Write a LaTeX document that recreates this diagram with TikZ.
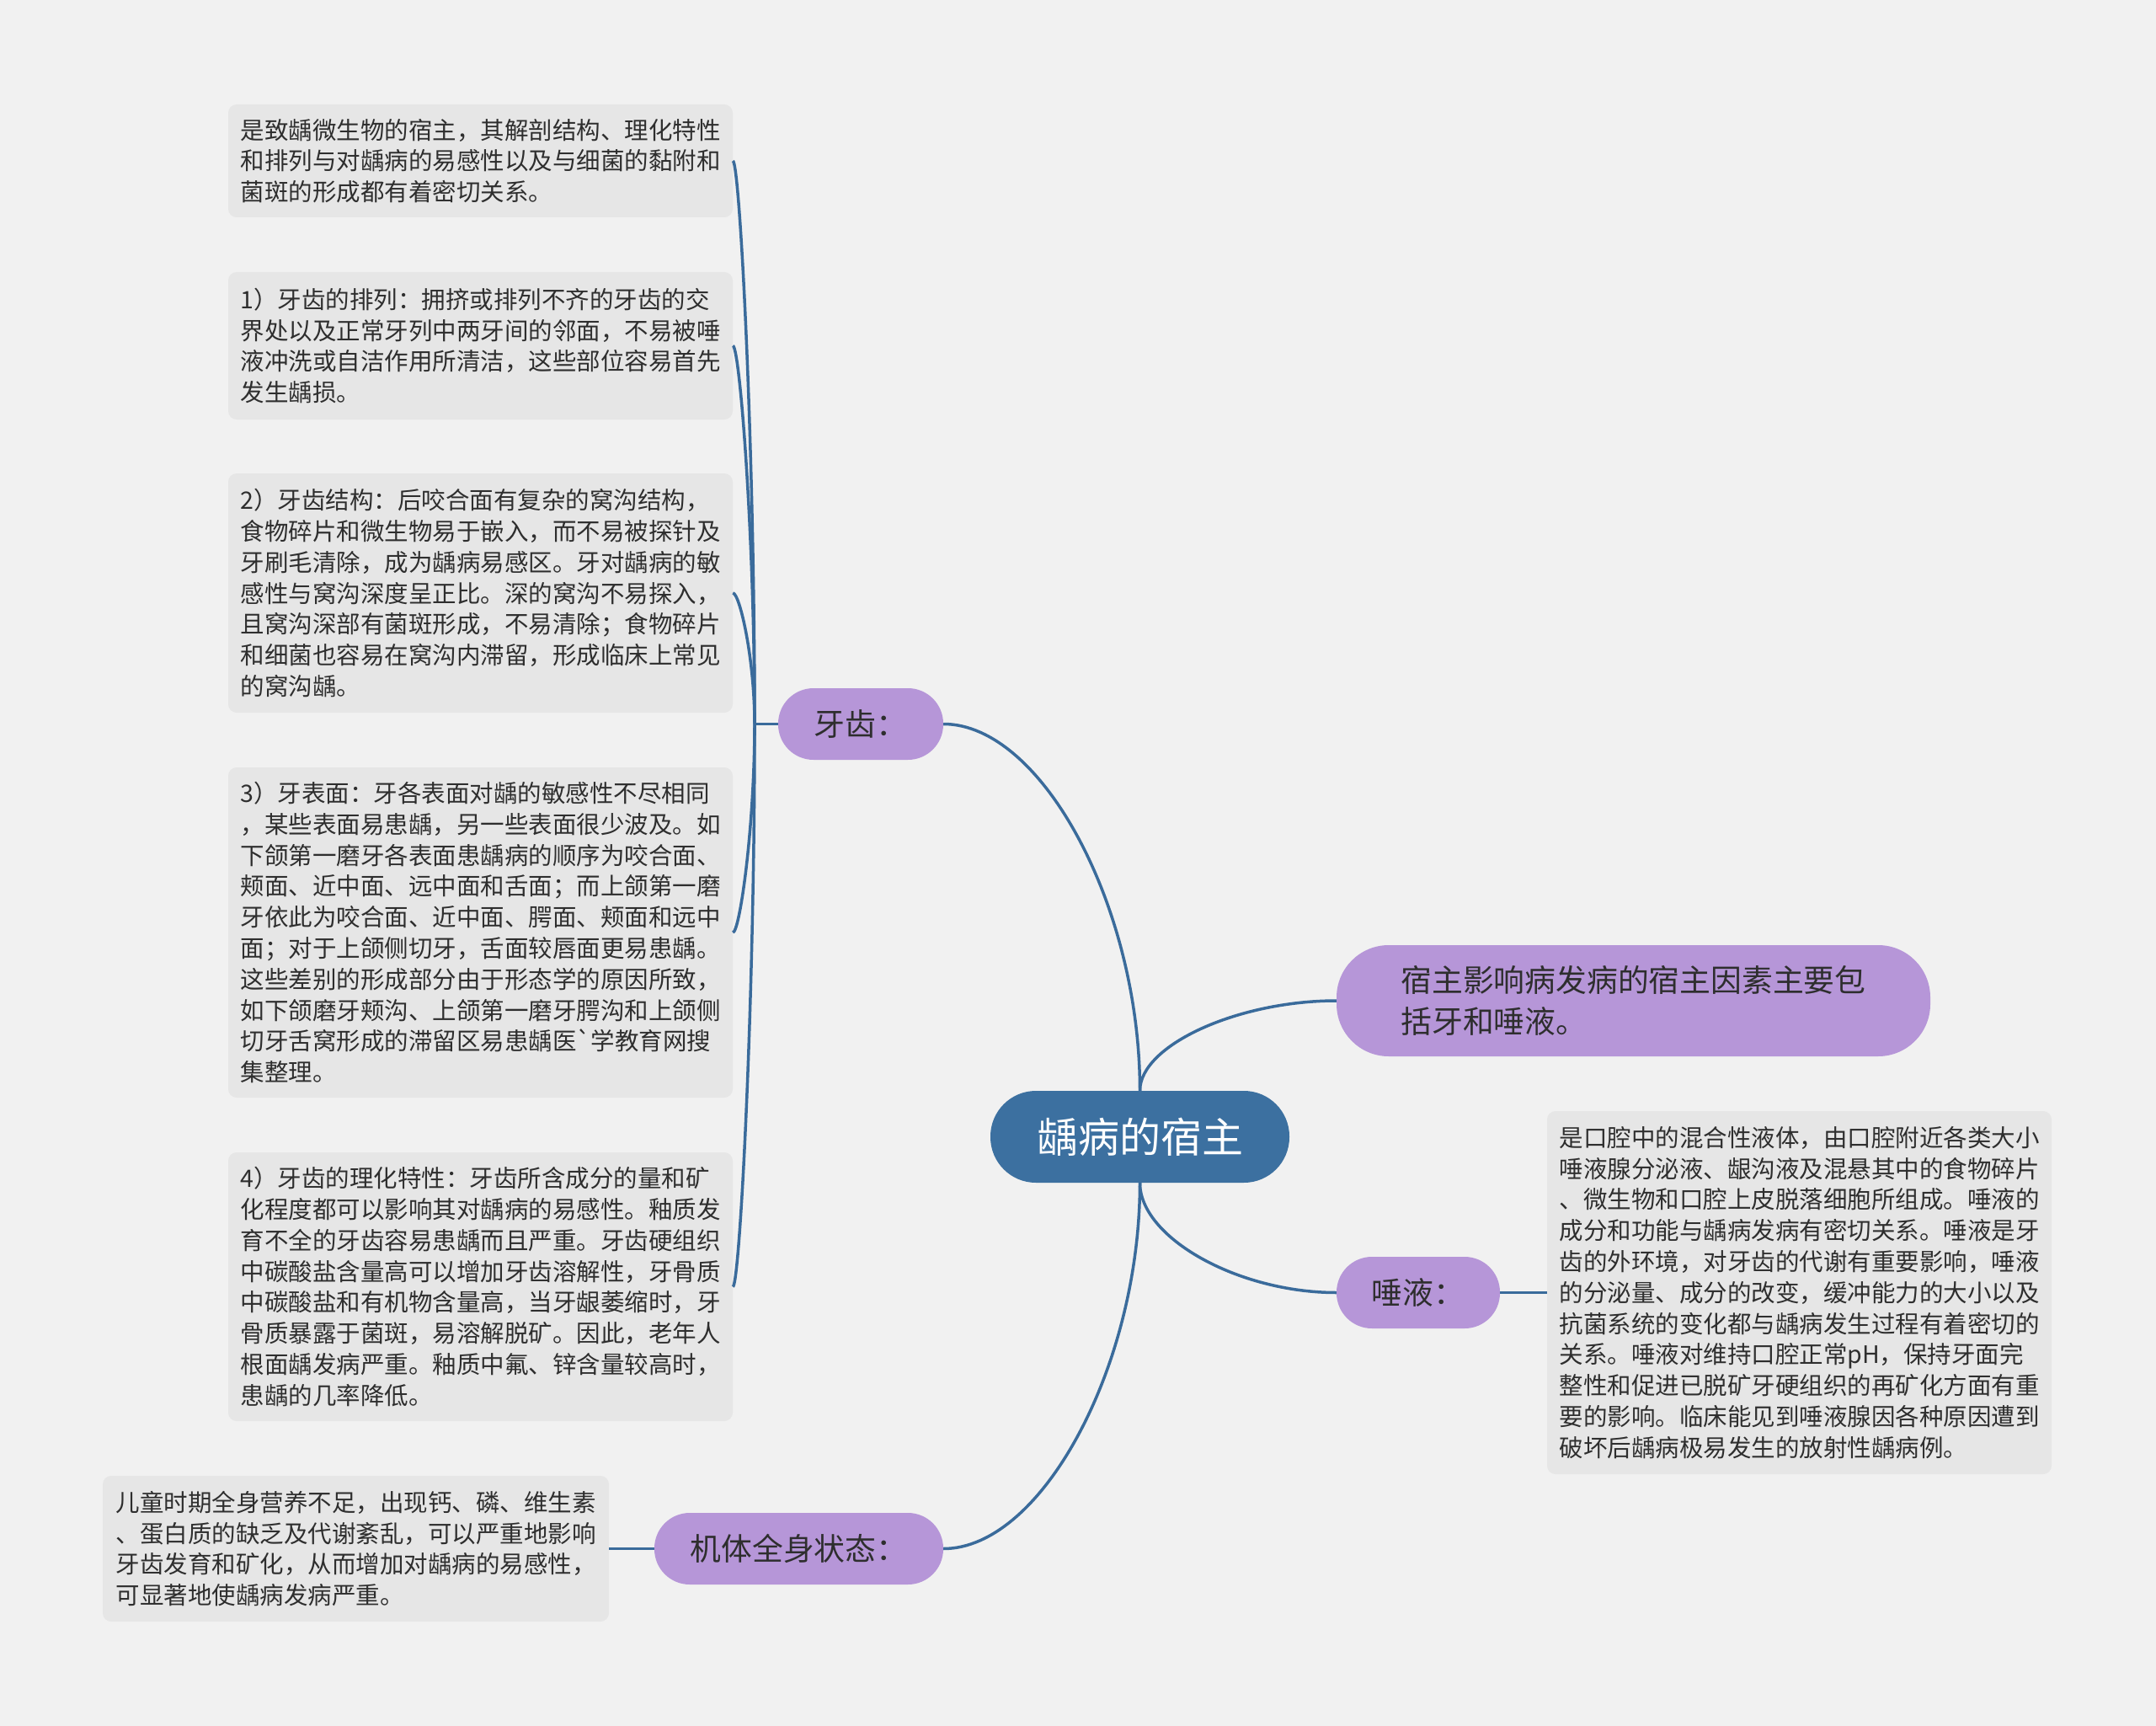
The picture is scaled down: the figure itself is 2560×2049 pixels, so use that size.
\documentclass[tikz,border=0pt]{standalone}
\usepackage{fontspec}
\setmainfont{Noto Sans CJK SC}
\newfontfamily\nomapfont{Noto Sans CJK SC}
\definecolor{bgc}{HTML}{F1F1F1}
\definecolor{boxc}{HTML}{E6E6E6}
\definecolor{purp}{HTML}{B696D8}
\definecolor{rootc}{HTML}{3C70A0}
\definecolor{linec}{HTML}{3A6B9B}
\definecolor{txtc}{HTML}{2E2E2E}
\tikzset{
  textbox/.style={fill=boxc, rounded corners=10pt, inner sep=0pt, align=left,
    font=\fontsize{28.5}{36.8}\selectfont, text=txtc},
  topic/.style={fill=purp, inner sep=0pt, align=left,
    font=\fontsize{36.8}{49}\selectfont, text=txtc},
  rootbox/.style={fill=rootc, inner sep=0pt, rounded corners=54pt,
    font=\fontsize{49}{56}\selectfont, text=white},
  conn/.style={draw=linec, line width=3.5pt}
}
\begin{document}
\begin{tikzpicture}[x=1pt,y=-1pt]
\path[fill=bgc] (0,0) rectangle (2560,2049);
\useasboundingbox (0,0) rectangle (2560,2049);

% root and topics
\node[rootbox, minimum width=355pt, minimum height=109pt] (root) at (1353.5,1349.5) {龋病的宿主};
\node[topic, rounded corners=42pt, minimum width=196pt, minimum height=85pt] (teeth) at (1022,859.5) {牙齿：};
\node[topic, rounded corners=42pt, minimum width=343pt, minimum height=85pt] (bodyn) at (948.5,1838.5) {机体全身状态：};
\node[topic, rounded corners=42pt, minimum width=194pt, minimum height=85pt] (saliva) at (1684,1534.5) {唾液：};
\node[topic, rounded corners=62pt, minimum width=705pt, minimum height=132pt] (summ) at (1939.5,1188) {宿主影响病发病的宿主因素主要包\\括牙和唾液。};

% left text boxes
\node[textbox, minimum width=599pt, minimum height=134pt] (b1) at (570.5,191) {是致龋微生物的宿主，其解剖结构、理化特性\\和排列与对龋病的易感性以及与细菌的黏附和\\菌斑的形成都有着密切关系。};
\node[textbox, minimum width=599pt, minimum height=175pt] (b2) at (570.5,410.5) {1）牙齿的排列：拥挤或排列不齐的牙齿的交\\界处以及正常牙列中两牙间的邻面，不易被唾\\液冲洗或自洁作用所清洁，这些部位容易首先\\发生龋损。};
\node[textbox, minimum width=599pt, minimum height=284pt] (b3) at (570.5,704) {2）牙齿结构：后咬合面有复杂的窝沟结构，\\食物碎片和微生物易于嵌入，而不易被探针及\\牙刷毛清除，成为龋病易感区。牙对龋病的敏\\感性与窝沟深度呈正比。深的窝沟不易探入，\\且窝沟深部有菌斑形成，不易清除；食物碎片\\和细菌也容易在窝沟内滞留，形成临床上常见\\的窝沟龋。};
\node[textbox, minimum width=599pt, minimum height=392pt] (b4) at (570.5,1107) {3）牙表面：牙各表面对龋的敏感性不尽相同\\，某些表面易患龋，另一些表面很少波及。如\\下颌第一磨牙各表面患龋病的顺序为咬合面、\\颊面、近中面、远中面和舌面；而上颌第一磨\\牙依此为咬合面、近中面、腭面、颊面和远中\\面；对于上颌侧切牙，舌面较唇面更易患龋。\\这些差别的形成部分由于形态学的原因所致，\\如下颌磨牙颊沟、上颌第一磨牙腭沟和上颌侧\\切牙舌窝形成的滞留区易患龋医{\nomapfont `}学教育网搜\\集整理。};
\node[textbox, minimum width=599pt, minimum height=319pt] (b5) at (570.5,1527.5) {4）牙齿的理化特性：牙齿所含成分的量和矿\\化程度都可以影响其对龋病的易感性。釉质发\\育不全的牙齿容易患龋而且严重。牙齿硬组织\\中碳酸盐含量高可以增加牙齿溶解性，牙骨质\\中碳酸盐和有机物含量高，当牙龈萎缩时，牙\\骨质暴露于菌斑，易溶解脱矿。因此，老年人\\根面龋发病严重。釉质中氟、锌含量较高时，\\患龋的几率降低。};
\node[textbox, minimum width=601pt, minimum height=173pt] (bt) at (422.5,1838.5) {儿童时期全身营养不足，出现钙、磷、维生素\\、蛋白质的缺乏及代谢紊乱，可以严重地影响\\牙齿发育和矿化，从而增加对龋病的易感性，\\可显著地使龋病发病严重。};
\node[textbox, minimum width=599pt, minimum height=431pt] (st) at (2136.5,1534.5) {是口腔中的混合性液体，由口腔附近各类大小\\唾液腺分泌液、龈沟液及混悬其中的食物碎片\\、微生物和口腔上皮脱落细胞所组成。唾液的\\成分和功能与龋病发病有密切关系。唾液是牙\\齿的外环境，对牙齿的代谢有重要影响，唾液\\的分泌量、成分的改变，缓冲能力的大小以及\\抗菌系统的变化都与龋病发生过程有着密切的\\关系。唾液对维持口腔正常pH，保持牙面完\\整性和促进已脱矿牙硬组织的再矿化方面有重\\要的影响。临床能见到唾液腺因各种原因遭到\\破坏后龋病极易发生的放射性龋病例。};

% main connectors
\draw[conn] (root.north) .. controls +(0,-218) and +(117,0) .. (teeth.east);
\draw[conn] (root.north) .. controls +(0,-54) and +(-117,0) .. (summ.west);
\draw[conn] (root.south) .. controls +(0,65) and +(-117,0) .. (saliva.west);
\draw[conn] (root.south) .. controls +(0,217) and +(117,0) .. (bodyn.east);

% teeth trunk
\coordinate (tk) at (896,859.5);
\draw[conn] (teeth.west) -- (tk);
\draw[conn] (tk) .. controls +(0,-334) and +(8,0) .. (b1.east);
\draw[conn] (tk) .. controls +(0,-224.5) and +(8,0) .. (b2.east);
\draw[conn] (tk) .. controls +(0,-78) and +(8,0) .. (b3.east);
\draw[conn] (tk) .. controls +(0,124) and +(8,0) .. (b4.east);
\draw[conn] (tk) .. controls +(0,334) and +(8,0) .. (b5.east);

% straight connectors
\draw[conn] (saliva.east) -- (st.west);
\draw[conn] (bodyn.west) -- (bt.east);
\end{tikzpicture}
\end{document}
